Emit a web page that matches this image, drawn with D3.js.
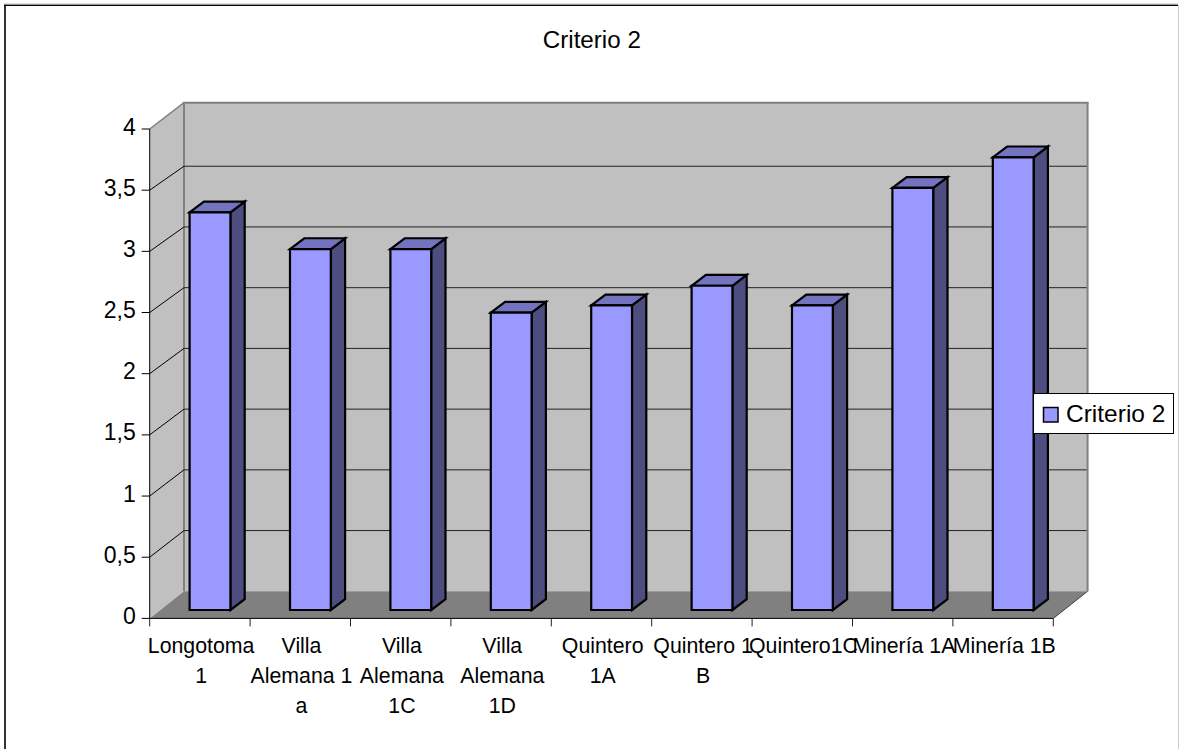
<!DOCTYPE html>
<html><head><meta charset="utf-8">
<script src="https://cdn.jsdelivr.net/npm/d3@7"></script>
<style>html,body{margin:0;padding:0;background:#fff}svg{display:block}text{font-family:"Liberation Sans",Arial,sans-serif;fill:#000}</style>
</head><body><svg id="c" width="1179" height="749"></svg>
<script>
const chartTitle = "Criterio 2";
const seriesName = "Criterio 2";
const categories = ["Longotoma 1","Villa Alemana 1 a","Villa Alemana 1C","Villa Alemana 1D","Quintero 1A","Quintero 1 B","Quintero1C","Minería 1A","Minería 1B"];
const categoryLines = [["Longotoma","1"],["Villa","Alemana 1","a"],["Villa","Alemana","1C"],["Villa","Alemana","1D"],["Quintero","1A"],["Quintero 1","B"],["Quintero1C"],["Minería 1A"],["Minería 1B"]];
const values = [3.25,2.95,2.95,2.43,2.49,2.65,2.49,3.45,3.7];
const ticks = [0,0.5,1,1.5,2,2.5,3,3.5,4];

const svg = d3.select("#c");
const x = d3.scaleBand().domain(categories).range([149.7,1053.3]);
const y = d3.scaleLinear().domain([0,4]).range([618.4,129]);
const yBack = d3.scaleLinear().domain([0,4]).range([591.3,105.5]);
const DX=34.3;
const BACK_TOP=102.7;
const poly=(pts,fill,stroke,sw)=>svg.append("polygon").attr("points",pts.map(p=>p.join(",")).join(" ")).attr("fill",fill).attr("stroke",stroke).attr("stroke-width",sw).attr("stroke-linejoin","miter");
const line=(a,b,c,sw)=>svg.append("line").attr("x1",a[0]).attr("y1",a[1]).attr("x2",b[0]).attr("y2",b[1]).attr("stroke",c).attr("stroke-width",sw);

// frame: left and top dark, right light, no bottom
line([5,4.5],[5,749],"#333",2);
line([4,5.3],[1178,5.3],"#000",1.5);
line([4,4],[1178,4],"#bbb",1);
line([1178.5,5],[1178.5,749],"#ccc",1);

const L=x.range()[0], R=x.range()[1], Y0=y(0), Y4=y(4), BL=L+DX, BR=R+DX, BY0=yBack(0);
// walls
poly([[L,Y4],[BL,BACK_TOP],[BL,BY0],[L,Y0]],"#c0c0c0","none",0);
poly([[BL,BACK_TOP],[BR,BACK_TOP],[BR,BY0],[BL,BY0]],"#c0c0c0","none",0);
poly([[L,Y0],[R,Y0],[BR,BY0],[BL,BY0]],"#808080","none",0);
// wall edges
line([L,Y4],[BL,BACK_TOP],"#808080",1.5);
line([BL-1,BACK_TOP],[BR+1,BACK_TOP],"#808080",2);
line([BR,BACK_TOP],[BR,BY0],"#808080",2);
line([BL,BACK_TOP],[BL,BY0],"#808080",2);
line([BR,BY0],[R,Y0],"#404040",1);
// gridlines
ticks.filter(t=>t>0&&t<4).forEach(t=>{
  line([L,y(t)],[BL,yBack(t)],"#000",1);
  line([BL,yBack(t)],[BR-1,yBack(t)],"#222",1);
});
// axes
line([L,Y4],[L,Y0],"#000",1);
line([L,Y0],[R,Y0],"#000",1);
ticks.forEach(t=>{
  line([L-8,y(t)],[L,y(t)],"#000",1);
  svg.append("text").attr("x",L-14).attr("y",y(t)+5.5).attr("text-anchor","end").attr("font-size",23).text(String(t).replace(".",","));
});
categories.concat([null]).forEach(c=>{
  const tx=c?x(c):R;
  line([tx,Y0],[tx,Y0+8],"#222",1);
});
categories.forEach((c,i)=>{
  const cx=x(c)+x.bandwidth()/2+1.2;
  const t=svg.append("text").attr("text-anchor","middle").attr("font-size",21.3);
  categoryLines[i].forEach((s,k)=>t.append("tspan").attr("x",cx).attr("y",653.3+k*30).text(s));
});
// bars
const frontDX=10.1, frontDY=-8.4, depthDX=14.3, depthDY=-10.8, barW=40.8;
categories.forEach((c,i)=>{
  const xl=x(c)+x.bandwidth()/2-barW/2+frontDX, xr=xl+barW;
  const yb=Y0+frontDY, yt=y(values[i])+frontDY;
  const sw=2.2;
  poly([[xr,yb],[xr+depthDX,yb+depthDY],[xr+depthDX,yt+depthDY],[xr,yt]],"#4d4d80","#000",sw);
  poly([[xl,yt],[xl+depthDX,yt+depthDY],[xr+depthDX,yt+depthDY],[xr,yt]],"#7373bf","#000",sw);
  poly([[xl,yt],[xr,yt],[xr,yb],[xl,yb]],"#9999ff","#000",sw);
});
// legend
svg.append("rect").attr("x",1033.5).attr("y",393.5).attr("width",140).attr("height",40).attr("fill","#fff").attr("stroke","#000").attr("stroke-width",1);
svg.append("rect").attr("x",1043.5).attr("y",407.5).attr("width",14.5).attr("height",14.5).attr("fill","#9999ff").attr("stroke","#000").attr("stroke-width",1.5);
svg.append("text").attr("x",1066).attr("y",421.7).attr("font-size",24.5).text(seriesName);
// title
svg.append("text").attr("x",591.8).attr("y",48.3).attr("text-anchor","middle").attr("font-size",24.2).text(chartTitle);
</script></body></html>
